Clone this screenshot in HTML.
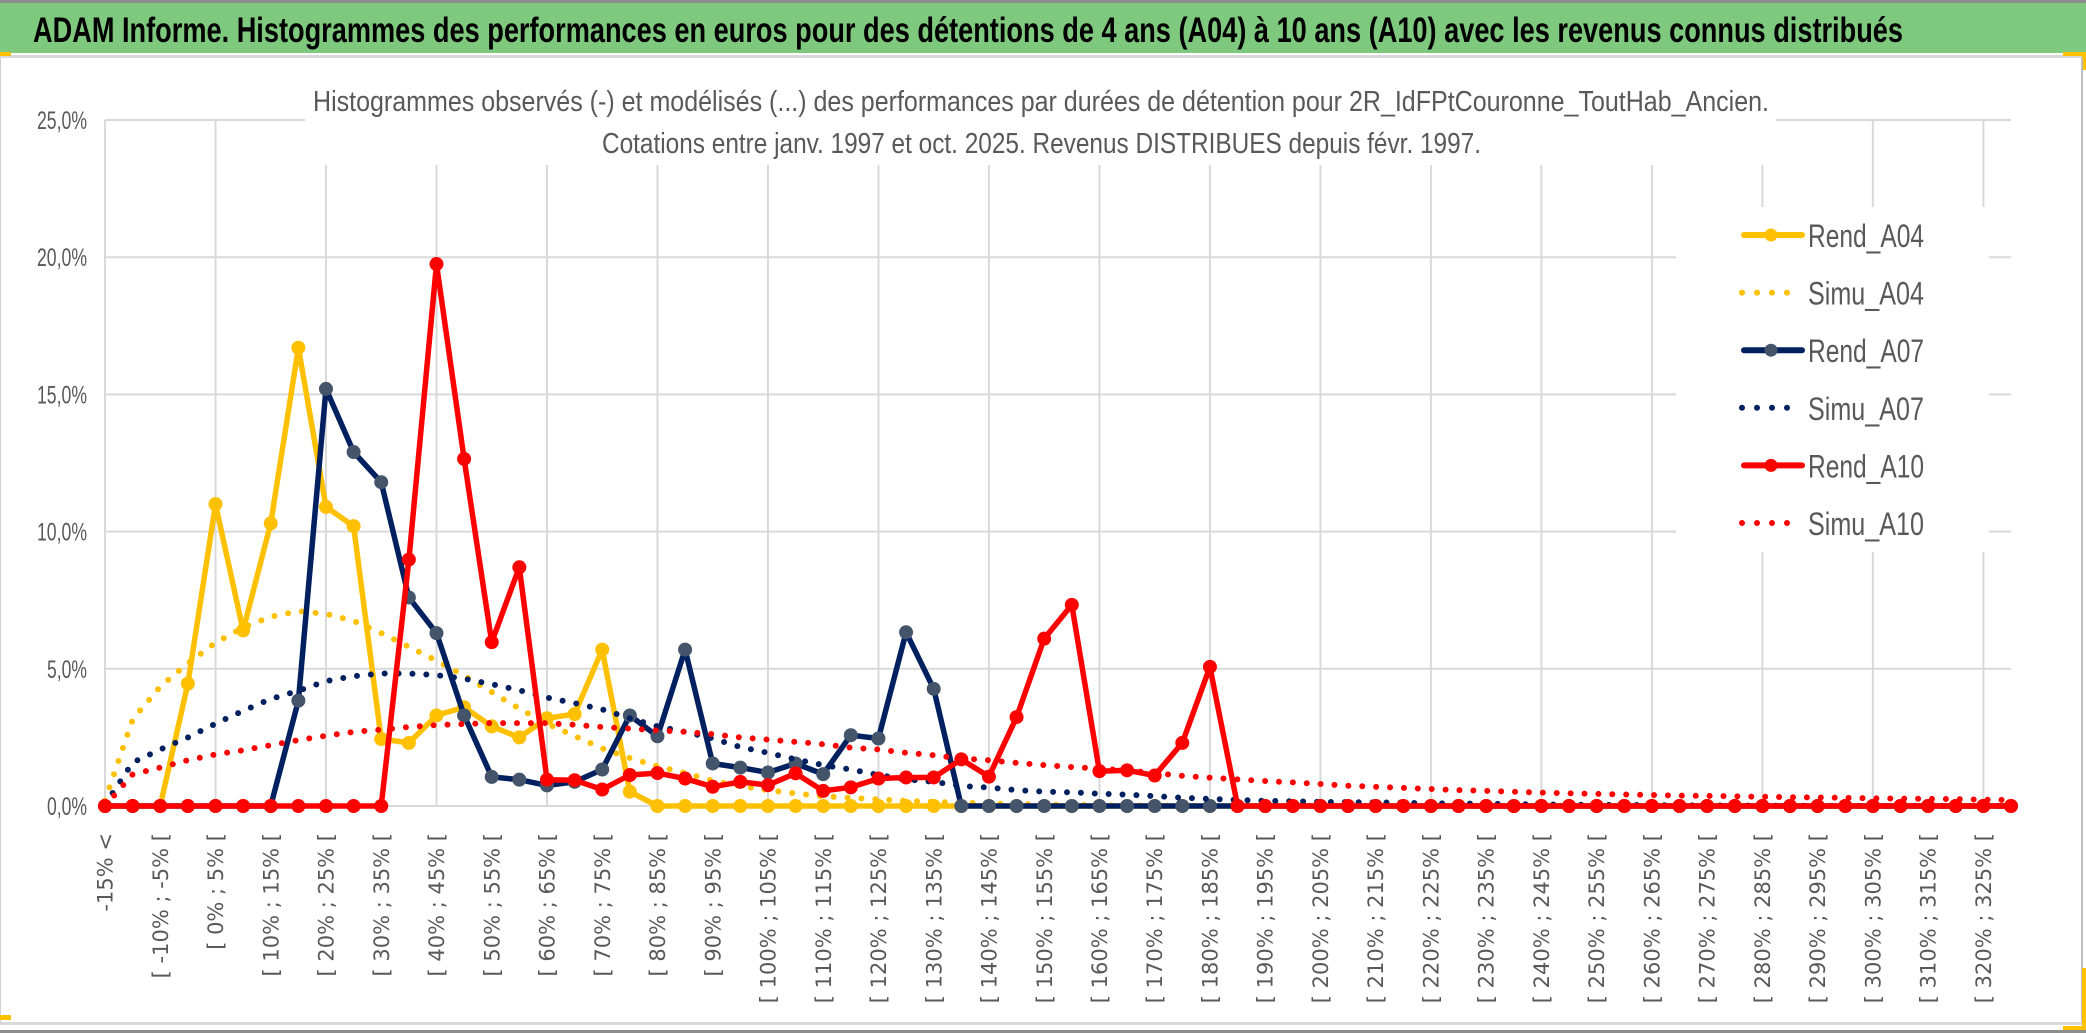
<!DOCTYPE html>
<html><head><meta charset="utf-8"><style>
html,body{margin:0;padding:0;background:#fff;}
svg{display:block;}
</style></head><body>
<svg id="chart" width="2086" height="1033" viewBox="0 0 2086 1033" xmlns="http://www.w3.org/2000/svg">
  <rect x="0" y="0" width="2086" height="1033" fill="#ffffff"/>
  <rect x="0" y="0" width="2086" height="3" fill="#8c8c8c"/>
  <rect x="0" y="3" width="2086" height="50" fill="#7fc97f"/>
  <text x="33" y="42" font-family="Liberation Sans, sans-serif" font-weight="bold" font-size="35" fill="#000" textLength="1870" lengthAdjust="spacingAndGlyphs">ADAM Informe. Histogrammes des performances en euros pour des détentions de 4 ans (A04) à 10 ans (A10) avec les revenus connus distribués</text>
  <rect x="0" y="55" width="2086" height="3" fill="#d9d9d9"/>
  <rect x="0" y="52" width="11" height="4" fill="#ffc000"/>
  <rect x="2063" y="52" width="23" height="4" fill="#ffc000"/>
  <rect x="2082" y="52" width="4" height="18" fill="#ffc000"/>
  <rect x="2081" y="58" width="2" height="965" fill="#bfbfbf"/>
  <rect x="0" y="58" width="1" height="965" fill="#d0d0d0"/>
  <rect x="0" y="1022" width="2086" height="3" fill="#d9d9d9"/>
  <rect x="0" y="1030" width="2086" height="3" fill="#8c8c8c"/>
  <rect x="0" y="1015" width="11" height="5" fill="#ffc000"/>
  <rect x="2063" y="1026" width="23" height="4" fill="#ffc000"/>
  <rect x="2082" y="968" width="4" height="60" fill="#ffc000"/>
  <g id="grid"></g>
  <g id="yaxis"></g>
  <g id="xaxis"></g>
  <rect x="305" y="60" width="1471" height="105" fill="#ffffff"/>
  <text x="313" y="111" font-family="Liberation Sans, sans-serif" font-size="29" fill="#595959" textLength="1456" lengthAdjust="spacingAndGlyphs">Histogrammes observés (-) et modélisés (...) des performances par durées de détention pour 2R_IdFPtCouronne_ToutHab_Ancien.</text>
  <text x="602" y="153" font-family="Liberation Sans, sans-serif" font-size="29" fill="#595959" textLength="879" lengthAdjust="spacingAndGlyphs">Cotations entre janv. 1997 et oct. 2025. Revenus DISTRIBUES depuis févr. 1997.</text>
  <rect x="1676" y="207" width="313" height="345" fill="#ffffff"/>
  <g id="series"></g>
  <g id="legend"></g>
</svg>
<script>
// ---- data ----
const rendA04 = [0,0,0,4.46,11.0,6.4,10.3,16.7,10.9,10.2,2.44,2.3,3.3,3.6,2.9,2.5,3.2,3.35,5.7,0.52,
0,0,0,0,0,0,0,0,0,0,0,0,0,0,0,0,0,0,0,0,0,0,0,0,0,0,0,0,0,0,0,0,0,0,0,0,0,0,0,0,0,0,0,0,0,0,0,0,0,0];
const simuA04 = [0.2,3.15,4.35,5.2,5.95,6.5,6.9,7.1,7.0,6.75,6.3,5.8,5.3,4.75,4.15,3.55,3.0,2.55,2.1,1.75,
1.45,1.2,0.92,0.73,0.58,0.46,0.35,0.3,0.24,0.19,0.15,0.12,0.09,0.07,0.05,0.04,0.03,0.02,0.02,0.01,
0,0,0,0,0,0,0,0,0,0,0,0,0,0,0,0,0,0,0,0,0,0,0,0,0,0,0,0,0,0];
const rendA07 = [0,0,0,0,0,0,0,3.84,15.2,12.9,11.8,7.6,6.3,3.3,1.06,0.96,0.75,0.88,1.33,3.3,2.54,5.7,1.55,1.4,1.22,1.55,1.16,2.58,2.46,6.33,4.27,
0,0,0,0,0,0,0,0,0,0,0,0,0,0,0,0,0,0,0,0,0,0,0,0,0,0,0,0,0,0,0,0,0,0,0,0,0,0,0];
const simuA07 = [0.05,1.58,2.06,2.5,3.0,3.47,3.9,4.2,4.55,4.73,4.83,4.83,4.77,4.64,4.44,4.22,3.95,3.75,3.52,3.2,
2.9,2.7,2.46,2.15,1.94,1.7,1.49,1.33,1.13,0.97,0.88,0.73,0.67,0.58,0.52,0.5,0.45,0.41,0.36,0.3,
0.26,0.22,0.19,0.17,0.15,0.14,0.13,0.12,0.1,0.09,0.08,0.07,0.06,0.05,0.04,0.04,0.03,0.03,0.02,0.02,
0.01,0.01,0.01,0,0,0,0,0,0,0];
const rendA10 = [0,0,0,0,0,0,0,0,0,0,0,8.98,19.75,12.65,5.97,8.7,0.96,0.94,0.6,1.13,1.2,1.0,0.7,0.88,0.76,1.19,0.55,0.68,1.0,1.04,1.04,1.7,1.07,3.24,6.1,7.33,1.27,1.3,1.11,2.3,5.07,
0,0,0,0,0,0,0,0,0,0,0,0,0,0,0,0,0,0,0,0,0,0,0,0,0,0,0,0,0];
const simuA10 = [0,1.15,1.4,1.67,1.88,2.03,2.22,2.4,2.56,2.7,2.78,2.88,2.95,2.99,3.02,3.02,3.02,2.96,2.88,2.82,
2.76,2.7,2.62,2.5,2.42,2.34,2.25,2.13,2.06,1.94,1.85,1.73,1.67,1.57,1.49,1.42,1.36,1.3,1.2,1.1,
1.03,0.97,0.91,0.86,0.8,0.74,0.7,0.66,0.62,0.58,0.55,0.52,0.49,0.46,0.44,0.42,0.4,0.38,0.37,0.35,
0.34,0.32,0.31,0.3,0.28,0.27,0.26,0.25,0.23,0.22];
const yTicks = [0,5,10,15,20,25];
const yTickLabels = ["0,0%","5,0%","10,0%","15,0%","20,0%","25,0%"];
const categories = ["-15% <"];
for (let b = -15; b < 330; b += 5) categories.push("[ " + b + "% ; " + (b + 5) + "% [");

// ---- layout ----
const NS = "http://www.w3.org/2000/svg";
const X0 = 105, X1 = 2011, Y0 = 806, Y25 = 120;
const n = categories.length;
function xPos(i){ return X0 + (X1 - X0) * i / (n - 1); }
function yPos(v){ return Y0 - (Y0 - Y25) * v / 25; }
function mk(tag, attrs, parent){
  const e = document.createElementNS(NS, tag);
  for (const k in attrs) e.setAttribute(k, attrs[k]);
  parent.appendChild(e);
  return e;
}
const grid = document.getElementById('grid');
const yaxis = document.getElementById('yaxis');
const xaxis = document.getElementById('xaxis');
const series = document.getElementById('series');
const legend = document.getElementById('legend');

yTicks.forEach((t, k) => {
  const l = mk('line', {x1: X0, x2: X1, y1: yPos(t), y2: yPos(t), stroke: '#d9d9d9', 'stroke-width': 2}, grid);
  
  
  const tx = mk('text', {x: 87, y: yPos(t) + 9, 'text-anchor': 'end', 'font-family': 'Liberation Sans, sans-serif', 'font-size': 25, fill: '#595959', textLength: yTickLabels[k].length * 10, lengthAdjust: 'spacingAndGlyphs'}, yaxis);
  tx.textContent = yTickLabels[k];
  
  
});
for (let i = 0; i < n; i += 4) {
  const l = mk('line', {x1: xPos(i), x2: xPos(i), y1: Y25, y2: Y0, stroke: '#d9d9d9', 'stroke-width': 2}, grid);
  
  
}
for (let i = 0; i < n; i += 2) {
  const x = xPos(i);
  const tx = mk('text', {transform: 'translate(' + x + ',833) rotate(-90)', 'text-anchor': 'end', dy: '0.36em', 'font-family': 'DejaVu Sans, sans-serif', 'font-size': 21, fill: '#595959'}, xaxis);
  tx.textContent = categories[i];
  
  
}

function drawSeries(vals, color, dotted, markerFill, name){
  const d = vals.map((v, i) => (i ? 'L' : 'M') + xPos(i).toFixed(1) + ',' + yPos(v).toFixed(1)).join(' ');
  const g = mk('g', {}, series);
  
  
  if (dotted) {
    const p = mk('path', {d: d, fill: 'none', stroke: color, 'stroke-width': 6, 'stroke-linecap': 'round', 'stroke-dasharray': '0 13.9'}, g);
    
    
  } else {
    const p = mk('path', {d: d, fill: 'none', stroke: color, 'stroke-width': 5.5, 'stroke-linejoin': 'round'}, g);
    
    
    vals.forEach((v, i) => {
      const c = mk('circle', {cx: xPos(i), cy: yPos(v), r: 6.5, fill: markerFill, stroke: markerFill, 'stroke-width': 1}, g);
      
      
    });
  }
}
drawSeries(rendA04, '#ffc000', false, '#ffc000', 'rend-a04');
drawSeries(simuA04, '#ffc000', true, null, 'simu-a04');
drawSeries(rendA07, '#002060', false, '#44546a', 'rend-a07');
drawSeries(simuA07, '#002060', true, null, 'simu-a07');
drawSeries(rendA10, '#ff0000', false, '#ff0000', 'rend-a10');
drawSeries(simuA10, '#ff0000', true, null, 'simu-a10');

const legendNames = ['Rend_A04','Simu_A04','Rend_A07','Simu_A07','Rend_A10','Simu_A10'];
const legendColors = ['#ffc000','#ffc000','#002060','#002060','#ff0000','#ff0000'];
const legendMarkers = ['#ffc000',null,'#44546a',null,'#ff0000',null];
legendNames.forEach((nm, k) => {
  const y = 235 + k * 57.6;
  const g = mk('g', {}, legend);
  
  
  if (legendMarkers[k]) {
    mk('line', {x1: 1744, x2: 1802, y1: y, y2: y, stroke: legendColors[k], 'stroke-width': 6, 'stroke-linecap': 'round'}, g);
    mk('circle', {cx: 1771, cy: y, r: 6.5, fill: legendMarkers[k]}, g);
  } else {
    mk('line', {x1: 1742, x2: 1802, y1: y, y2: y, stroke: legendColors[k], 'stroke-width': 6, 'stroke-linecap': 'round', 'stroke-dasharray': '0 15'}, g);
  }
  const t = mk('text', {x: 1808, y: y + 12, 'font-family': 'Liberation Sans, sans-serif', 'font-size': 32, fill: '#595959', textLength: 116, lengthAdjust: 'spacingAndGlyphs'}, g);
  t.textContent = nm;
});
</script>
</body></html>
